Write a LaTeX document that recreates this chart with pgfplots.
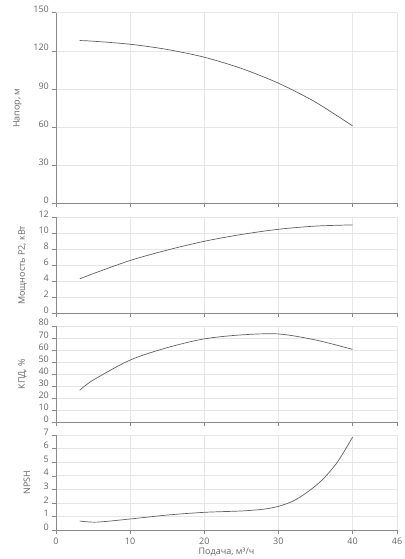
\documentclass[border=0pt]{standalone}
\usepackage{fontspec}
\setmainfont{Open Sans}
\usepackage{pgfplots}
\pgfplotsset{compat=1.18}
\definecolor{txt}{HTML}{666666}
\definecolor{grd}{HTML}{E6E6E6}
\definecolor{axl}{HTML}{8A8A8A}
\definecolor{crv}{HTML}{606060}
\pgfplotsset{
  panel/.style={
    scale only axis, width=341pt, anchor=south west,
    xmin=0, xmax=46, xtick={0,10,20,30,40,46},
    axis x line*=bottom, axis y line*=left,
    axis line style={axl, line width=0.9pt},
    tick align=outside, major tick length=4pt,
    tick style={axl, line width=0.6pt},
    grid=major, major grid style={grd, line width=0.7pt},
    ticklabel style={font=\fontsize{9}{10}\selectfont, text=txt},
    yticklabel style={anchor=base east, inner sep=0pt, xshift=-3pt},
    ylabel style={font=\fontsize{9}{10}\selectfont, text=txt},
    /pgf/number format/assume math mode=true,
  },
  crvstyle/.style={crv, line width=0.7pt, smooth, mark=none},
}
\begin{document}
\begin{tikzpicture}
\useasboundingbox (0,0) rectangle (404pt,559pt);
% Panel 1: head
\begin{axis}[panel, at={(56pt,355.5pt)}, height=190.8pt,
  ymin=0, ymax=150, ytick={0,30,60,90,120,150}, xticklabels={},
  ylabel={Напор, м}, ylabel shift=8pt]
\addplot[crvstyle] coordinates {(3.2,128.1) (5,127.6) (10,125.2) (15,121.1) (20,115.0) (25,106.2) (30,94.6) (35,79.7) (40,61.0)};
\end{axis}
% Panel 2: power
\begin{axis}[panel, at={(56pt,245.7pt)}, height=96pt,
  ymin=0, ymax=12, ytick={0,2,4,6,8,10,12}, xticklabels={},
  ylabel={Мощность P2, кВт}, ylabel shift=8.5pt]
\addplot[crvstyle] coordinates {(3.2,4.3) (5,4.95) (10,6.6) (15,7.9) (20,9.0) (25,9.85) (30,10.5) (35,10.9) (40,11.05)};
\end{axis}
% Panel 3: efficiency
\begin{axis}[panel, at={(56pt,136.7pt)}, height=96.3pt,
  ymin=0, ymax=80, ytick={0,10,...,80}, xticklabels={},
  ylabel={КПД, \%}, ylabel shift=8.5pt]
\addplot[crvstyle] coordinates {(3.2,26.6) (5,35) (10,51.7) (15,62) (20,69.3) (25,72.6) (30,73.4) (35,68.4) (40,60.6)};
\end{axis}
% Panel 4: NPSH
\begin{axis}[panel, at={(56pt,28.7pt)}, height=95.3pt,
  ymin=0, ymax=7, ytick={0,1,...,7}, xticklabels={0,10,20,30,40,46},
  ylabel={NPSH}, ylabel shift=10pt, xlabel={Подача, м³/ч},
  xlabel style={font=\fontsize{9}{10}\selectfont, text=txt, yshift=3pt}]
\addplot[crvstyle] coordinates {(3.2,0.68) (5.5,0.6) (10,0.83) (15,1.12) (20,1.32) (25,1.42) (28,1.55) (30,1.76) (32,2.15) (34,2.84) (36,3.75) (38,5.04) (40,6.84)};
\end{axis}
\end{tikzpicture}
\end{document}
